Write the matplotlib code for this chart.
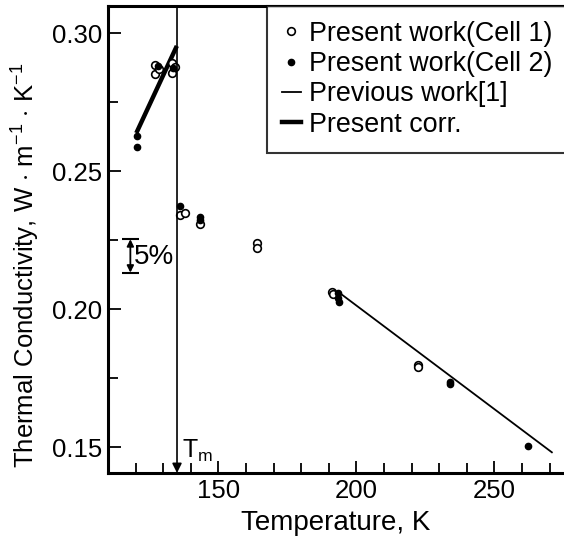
import numpy as np
import matplotlib
matplotlib.use("Agg")
import matplotlib.pyplot as plt
from matplotlib.ticker import MultipleLocator

plt.rcParams['font.family'] = ['Liberation Sans', 'DejaVu Sans']
plt.rcParams['mathtext.fontset'] = 'custom'
plt.rcParams['mathtext.rm'] = 'Liberation Sans'
plt.rcParams['mathtext.it'] = 'Liberation Sans'

# Cell 1 (open circles)
t_cell1 = [127.0, 127.0, 128.6, 133.1, 133.1, 134.3, 136.1, 137.9, 143.3, 163.9, 163.9, 191.0, 191.5, 222.4, 222.4]
k_cell1 = [0.2884, 0.2850, 0.2868, 0.2890, 0.2856, 0.2878, 0.2341, 0.2347, 0.2307, 0.2238, 0.2220, 0.2063, 0.2055, 0.1797, 0.1789]

# Cell 2 (filled dots)
t_cell2 = [120.6, 120.6, 128.0, 133.6, 136.1, 143.3, 143.3, 193.4, 193.4, 193.6, 233.8, 233.8, 262.0]
k_cell2 = [0.2627, 0.2588, 0.2880, 0.2872, 0.2373, 0.2334, 0.2322, 0.2057, 0.2040, 0.2027, 0.1736, 0.1728, 0.1504]

# previous work [1]
t_prev = [194.1, 270.8]
k_prev = [0.2057, 0.1481]

# present correlation
t_corr = [120.6, 134.6]
k_corr = [0.2645, 0.2946]

t_melt = 135.0

fig = plt.figure(figsize=(5.64, 5.49), dpi=100)
ax = fig.add_axes([108 / 564, 1 - 473 / 549, 456 / 564, 467 / 549])

ax.plot(t_cell1, k_cell1, 'o', mfc='white', mec='black', ms=5.5, mew=1.2,
        label='Present work(Cell 1)', zorder=3)
ax.plot(t_cell2, k_cell2, 'o', color='black', ms=4.5, label='Present work(Cell 2)', zorder=4)
ax.plot(t_prev, k_prev, '-', color='black', lw=1.3, label='Previous work[1]')
ax.plot(t_corr, k_corr, '-', color='black', lw=3.2, label='Present corr.')

ax.set_xlim(110, 275.2)
ax.set_ylim(0.1406, 0.3098)

# melting point arrow
ax.annotate('', xy=(t_melt, 0.1406), xytext=(t_melt, 0.3098),
            arrowprops=dict(arrowstyle='-|>', color='black', lw=1.2,
                            mutation_scale=14, shrinkA=0, shrinkB=0))
ax.text(142.3, 0.1485, 'T$_{\\mathrm{m}}$', fontsize=18, va='center', ha='center')

# 5% error bar
ax.hlines([0.2253, 0.2132], 115.0, 121.2, color='black', lw=1.5)
ax.annotate('', xy=(118.1, 0.2132), xytext=(118.1, 0.2253),
            arrowprops=dict(arrowstyle='<|-|>', color='black', lw=1.3,
                            mutation_scale=10, shrinkA=0, shrinkB=0))
ax.text(119.3, 0.2187, '5%', fontsize=20, va='center', ha='left')

ax.xaxis.set_major_locator(MultipleLocator(50))
ax.xaxis.set_minor_locator(MultipleLocator(10))
ax.yaxis.set_major_locator(MultipleLocator(0.05))
ax.yaxis.set_minor_locator(MultipleLocator(0.025))
ax.yaxis.set_major_formatter(plt.FuncFormatter(lambda v, p: '%.2f' % v))
ax.tick_params(which='both', direction='in', labelsize=18.5, width=1.3,
               top=False, right=False)
ax.tick_params(which='major', length=9, pad=4)
ax.tick_params(which='minor', length=7)

ax.spines['right'].set_visible(False)
for s in ['left', 'top', 'bottom']:
    ax.spines[s].set_linewidth(2.2)

ax.set_xlabel('Temperature, K', fontsize=20, labelpad=5)
ax.set_ylabel('Thermal Conductivity, W $\\cdot$ m$^{-1}$ $\\cdot$ K$^{-1}$', fontsize=18.5)
ax.yaxis.set_label_coords(-0.145, 0.445)

# legend frame runs past the right edge, as in the original
leg = ax.legend(loc='upper left', bbox_to_anchor=(159 / 456, 0.0, 0.69, 1.0), mode='expand',
                fontsize=19.4, frameon=True, fancybox=False, edgecolor='black',
                handlelength=0.7, handletextpad=0.32, labelspacing=0.16,
                borderpad=0.55, borderaxespad=0)
leg.get_frame().set_linewidth(1.5)

fig.savefig('out.png', dpi=100)
